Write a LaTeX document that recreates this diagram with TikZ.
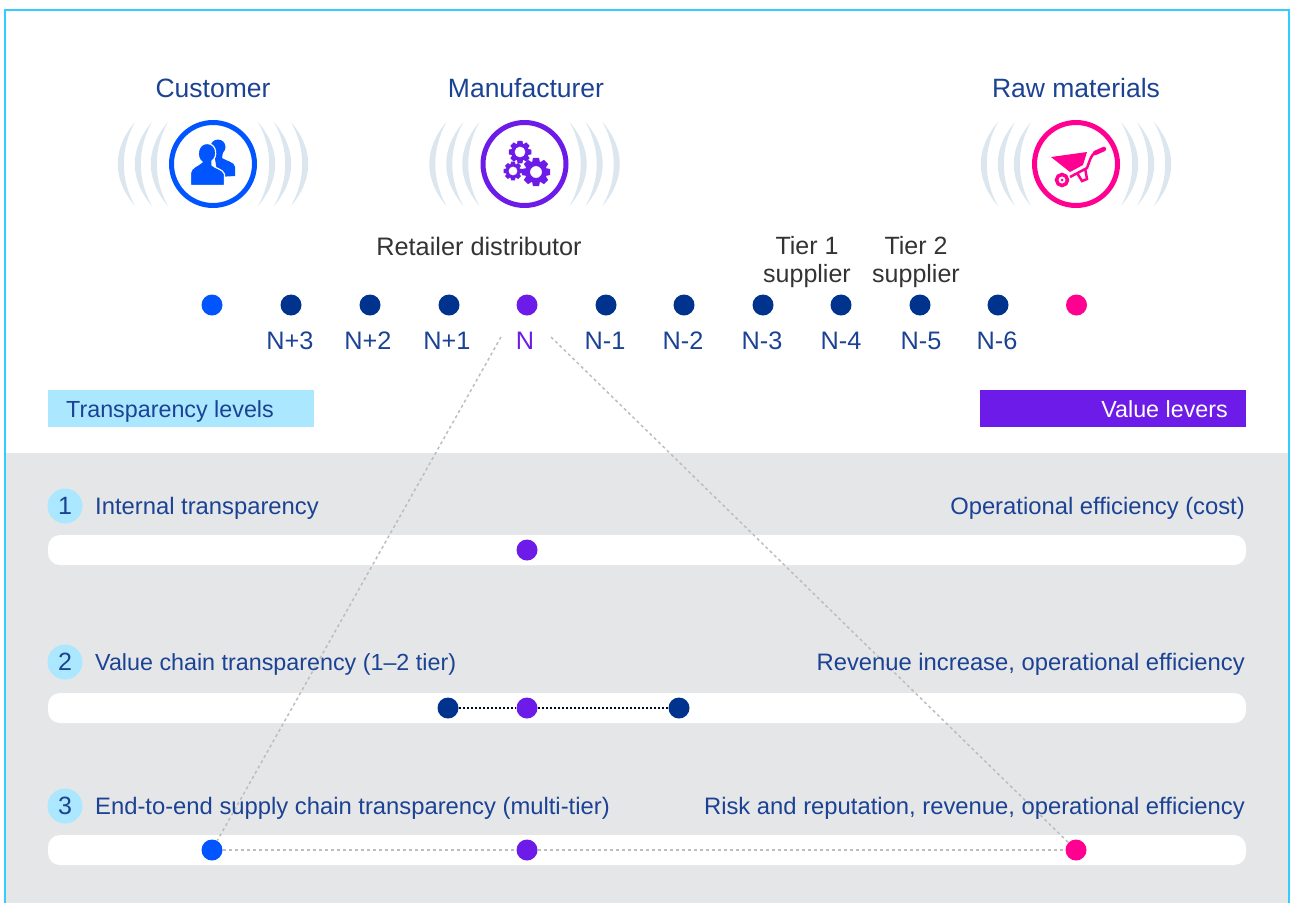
\documentclass[tikz,border=0pt]{standalone}
\usepackage{fontspec}
\setmainfont{Liberation Sans}
\definecolor{kblue}{HTML}{1B4293}
\definecolor{kdark}{HTML}{00338D}
\definecolor{kcust}{HTML}{0055FF}
\definecolor{kpurple}{HTML}{6D1BE8}
\definecolor{kpink}{HTML}{FF0090}
\definecolor{ksky}{HTML}{ABE8FF}
\definecolor{kedge}{HTML}{33CCFF}
\definecolor{kgrey}{HTML}{E5E6E8}
\definecolor{kwave}{HTML}{DCE6EF}
\definecolor{kline}{HTML}{BDBDBD}
\tikzset{
  label/.style={text=kblue,inner sep=0pt,text height=17,text depth=0,font=\fontsize{23.8}{29}\selectfont},
  bigger/.style={font=\fontsize{25.3}{29}\selectfont},
  smaller/.style={font=\fontsize{23.3}{29}\selectfont},
  tier/.style={text=black!80,inner sep=0pt,align=center,font=\fontsize{25}{28}\selectfont},
  dot/.style={circle,fill=#1,minimum size=21,inner sep=0pt},
  ring/.style={circle,draw=#1,line width=5,fill=white,minimum size=83,inner sep=0pt},
  numdot/.style={circle,fill=ksky,minimum size=35,inner sep=0pt,text=kblue,font=\fontsize{25}{29}\selectfont},
  bar/.style={fill=white,rounded corners=12},
  greyline/.style={draw=kline,line width=1.5,dash pattern=on 3 off 3},
  darkline/.style={draw=black!80!kdark,line width=1.3,dash pattern=on 2 off 2},
  waves/.pic={
    \foreach \s in {1,-1}{
      \foreach \d in {0,17,33}{
        \fill[kwave,xscale=\s,shift={(\d,0)}] (-78,-42) .. controls (-101,-15) and (-101,15) .. (-78,42)
          .. controls (-93,15) and (-93,-15) .. (-78,-42);
      }
    }
  }
}
% one toothed wheel with a hole: centre, outer radius, hole radius
\newcommand{\gearwheel}[3]{
  \fill[kpurple,even odd rule,shift={#1}] (-12:#2)
    \foreach \a in {0,45,...,315}{
      -- (\a-12:#2) -- (\a+12:#2) -- (\a+20:#2*0.76) -- (\a+25:#2*0.76)
    } -- cycle (0,0) circle (#3);
}
\begin{document}
\begin{tikzpicture}[x=1pt,y=-1pt]
   \useasboundingbox (0,0) rectangle (1290,903);
   \fill[kgrey] (5,453) rectangle (1290,903);
   \draw[kedge,line width=2] (5,903) -- (5,10) -- (1289,10) -- (1289,903);

   \path (213,164) pic {waves};
   \path (524.5,164) pic {waves};
   \path (1076,164) pic {waves};

   % icons
   \node[ring=kcust] (custring) at (213,164) {};
   \node[ring=kpurple] (manuring) at (524.5,164) {};
   \node[ring=kpink] (rawring) at (1076,164) {};

   \fill[kcust] (218,147) circle (7.5);
   \fill[kcust] (214,153) -- (223,152) -- (222,158) .. controls (226,161) and (235,162) .. (235,167)
     -- (235,176) -- (218,177) -- cycle;
   \fill[kcust,draw=white,line width=1.2] (202,162) .. controls (198,166) and (191,167) .. (190.5,173)
     -- (190.5,185.5) -- (224.5,185.5) -- (224.5,174) .. controls (223,169) and (214,168) .. (212,165)
     -- (212,161) .. controls (218,157) and (217,143.5) .. (207,143.5)
     .. controls (197,143.5) and (196,158) .. (202,162) -- cycle;

   \gearwheel{(536,172)}{14.5}{6}
   \gearwheel{(520,152)}{11.5}{5.5}
   \gearwheel{(513,171)}{9.5}{4.5}

   \fill[kpink] (1051,157) -- (1087,152) -- (1083,165) -- (1070,172) -- cycle;
   \draw[kpink,line width=2.5] (1070,177) -- (1087,168) .. controls (1090,160) and (1091,155) .. (1095,153);
   \draw[kpink,line width=4.5,line cap=round] (1095,153) -- (1104,149);
   \draw[kpink,line width=2.5] (1077,173) -- (1082,181) -- (1087,179) -- (1085,168);
   \draw[kpink,line width=3.5] (1062,180) circle (5.5);
   \fill[kpink] (1062,180) circle (1.5);

   % chain
   \node[dot=kcust] (chain0) at (212,305) {};
   \node[dot=kdark] (chain1) at (291,305) {};
   \node[dot=kdark] (chain2) at (370,305) {};
   \node[dot=kdark] (chain3) at (449,305) {};
   \node[dot=kpurple] (chain4) at (527,305) {};
   \node[dot=kdark] (chain5) at (606,305) {};
   \node[dot=kdark] (chain6) at (684,305) {};
   \node[dot=kdark] (chain7) at (763,305) {};
   \node[dot=kdark] (chain8) at (841,305) {};
   \node[dot=kdark] (chain9) at (920,305) {};
   \node[dot=kdark] (chain10) at (998,305) {};
   \node[dot=kpink] (chain11) at (1076.5,305) {};

   % levels
   \fill[ksky] (48,390) rectangle (314,427);
   \fill[kpurple] (980,390) rectangle (1246,427);
   \fill[bar] (48,535) rectangle (1246,565);
   \fill[bar] (48,693) rectangle (1246,723);
   \fill[bar] (48,835) rectangle (1246,865);

   \node[dot=kpurple] (one) at (527,550) {};
   \node[dot=kdark] (twoleft) at (448,708) {};
   \node[dot=kpurple] (two) at (527,708) {};
   \node[dot=kdark] (tworight) at (679,708) {};
   \node[dot=kcust] (threeleft) at (212,850) {};
   \node[dot=kpurple] (three) at (527,850) {};
   \node[dot=kpink] (threeright) at (1076,850) {};

   \draw[darkline] (twoleft) -- (two);
   \draw[darkline] (two) -- (tworight);
   \draw[greyline] (threeleft) -- (three);
   \draw[greyline] (three) -- (threeright);

   \coordinate (nleft) at (501,337);
   \coordinate (nright) at (551,337);
   \draw[greyline] (nleft) -- (threeleft);
   \draw[greyline] (nright) -- (threeright);

   \node[label,font=\fontsize{26.5}{29}\selectfont] (custname) at (213,89) {Customer};
   \node[label,font=\fontsize{26.5}{29}\selectfont] (manuname) at (526,89) {Manufacturer};
   \node[label,font=\fontsize{26.5}{29}\selectfont] (rawname) at (1076,89) {Raw materials};

   \node[label,bigger,text=black!80] (retail) at (479,247) {Retailer distributor};
   \node[tier] (tier1) at (807,262) {Tier 1\\supplier};
   \node[tier] (tier2) at (916,262) {Tier 2\\supplier};

   \node[label,bigger] (nplus3) at (290,341) {N+3};
   \node[label,bigger] (nplus2) at (368,341) {N+2};
   \node[label,bigger] (nplus1) at (447,341) {N+1};
   \node[label,bigger,text=kpurple] (nzero) at (525,341) {N};
   \node[label,bigger] (nminus1) at (605,341) {N-1};
   \node[label,bigger] (nminus2) at (683,341) {N-2};
   \node[label,bigger] (nminus3) at (762,341) {N-3};
   \node[label,bigger] (nminus4) at (841,341) {N-4};
   \node[label,bigger] (nminus5) at (921,341) {N-5};
   \node[label,bigger] (nminus6) at (997,341) {N-6};

   \node[label,anchor=west,smaller] (levels) at (66,409) {Transparency levels};
   \node[label,anchor=east,smaller,text=white] (levers) at (1228,409) {Value levers};

   \node[numdot] (num1) at (65,506) {1};
   \node[label,anchor=west] (level1) at (95,506) {Internal transparency};
   \node[label,anchor=east] (lever1) at (1245,506) {Operational efficiency (cost)};

   \node[numdot] (num2) at (65,662) {2};
   \node[label,anchor=west,smaller] (level2) at (95,662) {Value chain transparency (1--2 tier)};
   \node[label,anchor=east] (lever2) at (1245,662) {Revenue increase, operational efficiency};

   \node[numdot] (num3) at (65,806) {3};
   \node[label,anchor=west] (level3) at (95,806) {End-to-end supply chain transparency (multi-tier)};
   \node[label,anchor=east] (lever3) at (1245,806) {Risk and reputation, revenue, operational efficiency};
\end{tikzpicture}
\end{document}
